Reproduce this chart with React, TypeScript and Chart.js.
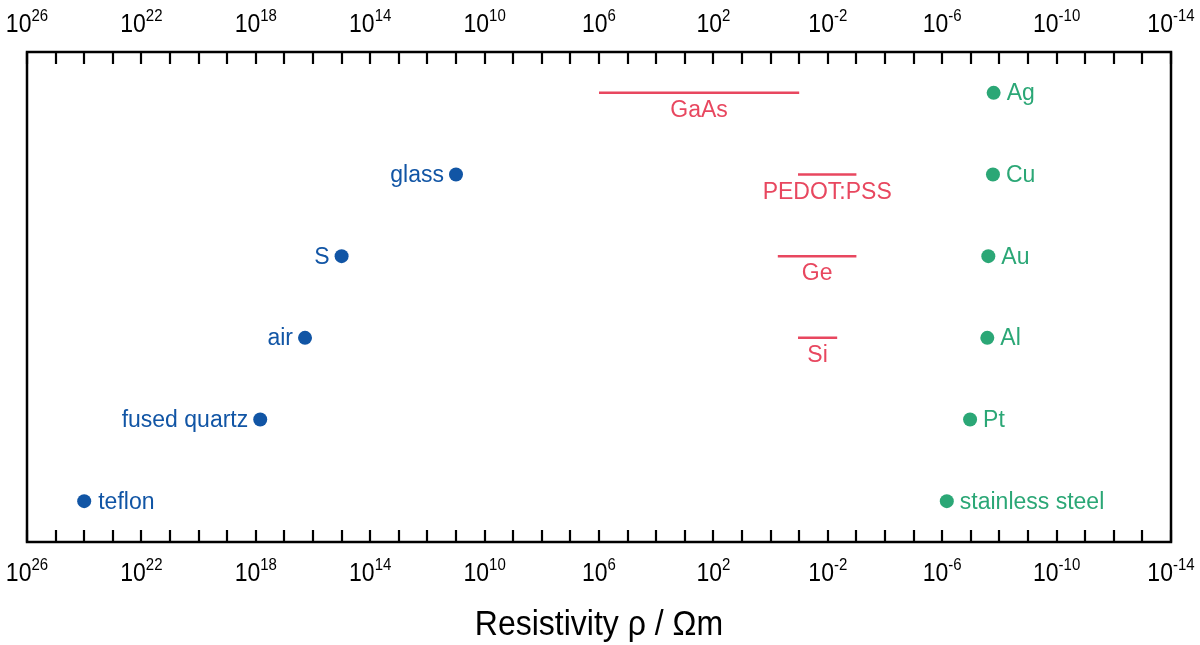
import { useEffect, useRef } from 'react';
import { Chart, registerables } from 'chart.js';

Chart.register(...registerables);

// ---- data ----
const exponentMin = -14;
const exponentMax = 26;
const labelledExponents = [26, 22, 18, 14, 10, 6, 2, -2, -6, -10, -14];

const insulatorNames = ['teflon', 'fused quartz', 'air', 'S', 'glass'];
const insulatorRho = [1e24, 7e17, 1.9e16, 1e15, 1e11];
const insulatorRow = [1, 2, 3, 4, 5];

const conductorNames = ['stainless steel', 'Pt', 'Al', 'Au', 'Cu', 'Ag'];
const conductorRho = [6.9e-7, 1.06e-7, 2.65e-8, 2.44e-8, 1.68e-8, 1.59e-8];
const conductorRow = [1, 2, 3, 4, 5, 6];

const semiNames = ['Si', 'Ge', 'PEDOT:PSS', 'GaAs'];
const semiHigh = [0.11, 0.56, 0.11, 1e6];
const semiLow = [0.0047, 0.001, 0.001, 0.1];
const semiRow = [3, 4, 5, 6];

const axisTitle = 'Resistivity \u03C1 / \u03A9m';

const BLUE = '#1155a5';
const GREEN = '#2ba776';
const RED = '#e8475f';
const FONT = "'Liberation Sans', Arial, sans-serif";

const labelsOnRight = new Set(['teflon']);

function drawText(ctx: CanvasRenderingContext2D, text: string, x: number, y: number, sy: number) {
  ctx.save();
  ctx.translate(x, y);
  ctx.scale(1, sy);
  ctx.fillText(text, 0, 0);
  ctx.restore();
}

const overlayPlugin = {
  id: 'overlay',
  afterDraw(chart: any) {
    const ctx: CanvasRenderingContext2D = chart.ctx;
    const xs = chart.scales.x;
    const ys = chart.scales.y;
    const { left, right, top, bottom } = chart.chartArea;
    ctx.save();
    // frame
    ctx.strokeStyle = '#000';
    ctx.lineWidth = 2.5;
    ctx.strokeRect(left, top, right - left, bottom - top);
    // ticks
    ctx.lineWidth = 2.2;
    for (let e = exponentMin; e <= exponentMax; e++) {
      const px = Math.round(xs.getPixelForValue(Math.pow(10, e)));
      ctx.beginPath();
      ctx.moveTo(px, top);
      ctx.lineTo(px, top + 12);
      ctx.moveTo(px, bottom);
      ctx.lineTo(px, bottom - 12);
      ctx.stroke();
    }
    // tick labels
    ctx.fillStyle = '#000';
    ctx.textBaseline = 'alphabetic';
    ctx.textAlign = 'left';
    for (const e of labelledExponents) {
      const px = xs.getPixelForValue(Math.pow(10, e));
      const base = '10';
      const sup = String(e);
      ctx.font = `23px ${FONT}`;
      const w1 = ctx.measureText(base).width;
      ctx.font = `15px ${FONT}`;
      const w2 = ctx.measureText(sup).width;
      const x0 = px - (w1 + w2) / 2;
      for (const [mainY, supY] of [[top - 20, top - 31], [bottom + 39, bottom + 28]]) {
        ctx.font = `23px ${FONT}`;
        drawText(ctx, base, x0, mainY, 1.15);
        ctx.font = `15px ${FONT}`;
        drawText(ctx, sup, x0 + w1, supY, 1.1);
      }
    }
    // axis title
    ctx.font = `32px ${FONT}`;
    ctx.textAlign = 'center';
    drawText(ctx, axisTitle, (left + right) / 2, bottom + 93, 1.08);

    // point labels
    ctx.font = `23px ${FONT}`;
    ctx.textBaseline = 'middle';
    ctx.fillStyle = BLUE;
    insulatorNames.forEach((n, i) => {
      const px = xs.getPixelForValue(insulatorRho[i]);
      const py = ys.getPixelForValue(insulatorRow[i]);
      if (labelsOnRight.has(n)) {
        ctx.textAlign = 'left';
        ctx.fillText(n, px + 14, py + 1);
      } else {
        ctx.textAlign = 'right';
        ctx.fillText(n, px - 12, py + 1);
      }
    });
    ctx.fillStyle = GREEN;
    ctx.textAlign = 'left';
    conductorNames.forEach((n, i) => {
      const px = xs.getPixelForValue(conductorRho[i]);
      const py = ys.getPixelForValue(conductorRow[i]);
      ctx.fillText(n, px + 13, py + 1);
    });
    ctx.fillStyle = RED;
    ctx.textAlign = 'center';
    ctx.textBaseline = 'alphabetic';
    semiNames.forEach((n, i) => {
      const p1 = xs.getPixelForValue(semiHigh[i]);
      const p2 = xs.getPixelForValue(semiLow[i]);
      const py = ys.getPixelForValue(semiRow[i]);
      ctx.fillText(n, (p1 + p2) / 2, py + 24);
    });
    ctx.restore();
  },
};

export default function App() {
  const ref = useRef<HTMLCanvasElement | null>(null);
  useEffect(() => {
    const canvas = ref.current;
    if (!canvas) return;
    const datasets: any[] = [
      {
        type: 'scatter',
        label: 'insulators',
        data: insulatorRho.map((v, i) => ({ x: v, y: insulatorRow[i] })),
        backgroundColor: BLUE,
        borderColor: BLUE,
        pointRadius: 7,
        borderWidth: 0,
      },
      {
        type: 'scatter',
        label: 'conductors',
        data: conductorRho.map((v, i) => ({ x: v, y: conductorRow[i] })),
        backgroundColor: GREEN,
        borderColor: GREEN,
        pointRadius: 7,
        borderWidth: 0,
      },
      ...semiNames.map((n, i) => ({
        type: 'line',
        label: n,
        data: [
          { x: semiHigh[i], y: semiRow[i] },
          { x: semiLow[i], y: semiRow[i] },
        ],
        borderColor: RED,
        backgroundColor: RED,
        borderWidth: 2.5,
        pointRadius: 0,
        showLine: true,
      })),
    ];
    const chart = new Chart(canvas, {
      type: 'scatter',
      data: { datasets },
      options: {
        animation: false,
        responsive: true,
        maintainAspectRatio: false,
        layout: { padding: { left: 27, right: 29, top: 52, bottom: 103 } },
        plugins: { legend: { display: false }, tooltip: { enabled: false } },
        scales: {
          x: {
            type: 'logarithmic',
            reverse: true,
            min: Math.pow(10, exponentMin),
            max: Math.pow(10, exponentMax),
            display: false,
          },
          y: { type: 'linear', min: 0.5, max: 6.5, display: false },
        },
      },
      plugins: [overlayPlugin],
    } as any);
    return () => chart.destroy();
  }, []);
  return (
    <div style={{ position: 'fixed', left: 0, top: 0, width: 1200, height: 645, background: '#fff' }}>
      <canvas ref={ref} />
    </div>
  );
}
